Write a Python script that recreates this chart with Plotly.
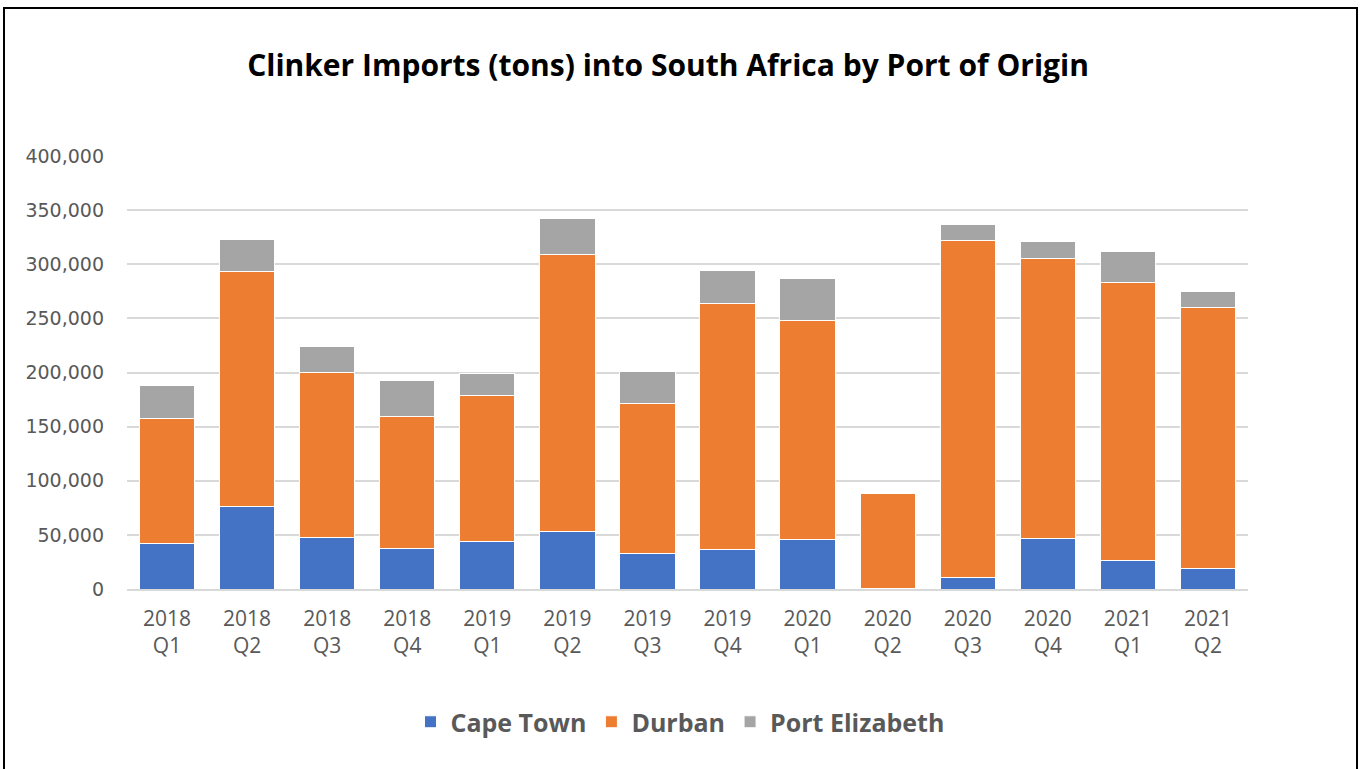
import plotly.graph_objects as go

# quarters on the x axis
quarters = ["2018<br>Q1", "2018<br>Q2", "2018<br>Q3", "2018<br>Q4",
            "2019<br>Q1", "2019<br>Q2", "2019<br>Q3", "2019<br>Q4",
            "2020<br>Q1", "2020<br>Q2", "2020<br>Q3", "2020<br>Q4",
            "2021<br>Q1", "2021<br>Q2"]

# tons per port
cape_town = [42000, 76600, 47200, 37700, 44200, 53100, 32800, 36800,
             45400, 500, 10200, 46300, 25900, 18500]
durban = [115400, 216900, 152800, 121600, 134900, 255900, 138500, 227100,
          202700, 88100, 312000, 259300, 256900, 242000]
port_elizabeth = [30300, 29100, 24100, 33700, 20000, 33600, 30000, 30000,
                  38700, 0, 14300, 15100, 28700, 14500]

y_ticks = [0, 50000, 100000, 150000, 200000, 250000, 300000, 350000, 400000]

series = [("Cape Town", cape_town, "#4472c4"),
          ("Durban", durban, "#ed7d31"),
          ("Port Elizabeth", port_elizabeth, "#a5a5a5")]

fig = go.Figure()
for name, vals, col in series:
    fig.add_trace(go.Bar(x=quarters, y=vals, name=name,
                         marker=dict(color=col, line=dict(color="white", width=1))))

# plot area in pixels -> paper coords for the outer frame
l, r, t, b = 127, 112, 156, 180
pw, ph = 1360 - l - r, 769 - t - b

fig.add_shape(type="rect", xref="paper", yref="paper",
              x0=(4 - l) / pw, x1=(1357 - l) / pw,
              y0=(769 - b - 790) / ph, y1=(769 - b - 8) / ph,
              line=dict(color="black", width=2), fillcolor="rgba(0,0,0,0)", layer="above")

fig.update_layout(
    barmode="stack",
    bargap=0.31,
    width=1360, height=769,
    margin=dict(l=l, r=r, t=t, b=b, pad=0),
    paper_bgcolor="white", plot_bgcolor="white",
    title=dict(text="<b>Clinker Imports (tons) into South Africa by Port of Origin</b>",
               x=668 / 1360, xanchor="center", y=1 - 65 / 769, yanchor="middle",
               font=dict(family="Open Sans", size=30, color="black")),
    legend=dict(orientation="h", x=(680 - l) / pw, xanchor="center",
                y=(769 - b - 722) / ph, yanchor="middle",
                font=dict(family="Open Sans", size=25, color="#595959", weight="bold"),
                itemwidth=30, traceorder="normal"),
    showlegend=True,
)

fig.update_xaxes(tickfont=dict(family="Open Sans", size=21, color="#595959"),
                 showline=True, linecolor="#d9d9d9", linewidth=1.5, ticks="",
                 ticklabelstandoff=10)
fig.update_yaxes(range=[0, 400000], tickvals=y_ticks, tickformat=",",
                 tickfont=dict(family="DejaVu Sans", size=19, color="#595959"),
                 showgrid=True, gridcolor="#d9d9d9", gridwidth=1.5,
                 zeroline=False, ticks="", ticklabelstandoff=22)

# drop the default body margin so the figure sits at the window origin
fig.write_html("out.html", config={"displayModeBar": False},
               post_script="document.body.style.margin='0';")
